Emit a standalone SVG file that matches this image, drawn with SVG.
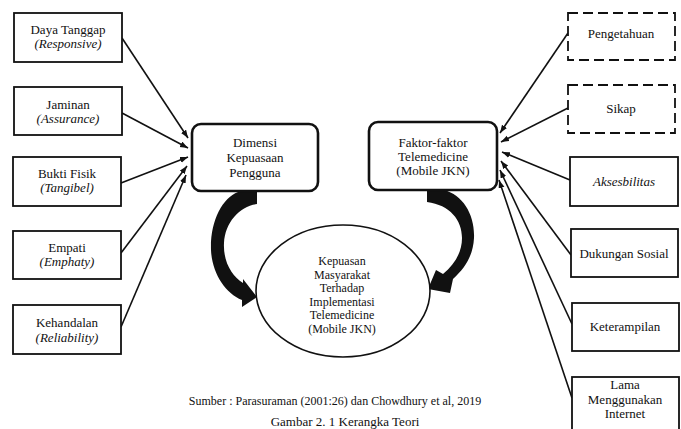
<svg xmlns="http://www.w3.org/2000/svg" width="681" height="429" viewBox="0 0 681 429">
<style>
text{font-family:"Liberation Serif","Times New Roman",serif;font-size:13px;fill:#111;text-anchor:middle}
.it{font-style:italic}
.box{fill:#fff;stroke:#111;stroke-width:1.8}
.dash{fill:#fff;stroke:#111;stroke-width:1.8;stroke-dasharray:10 5}
.rbox{fill:#fff;stroke:#111;stroke-width:2.6}
.ln{stroke:#111;stroke-width:1.6;fill:none;marker-end:url(#ah)}
.cap{font-size:12px}
.el{font-size:12px}
</style>
<defs>
<marker id="ah" markerUnits="userSpaceOnUse" markerWidth="9" markerHeight="7" refX="8" refY="3" orient="auto">
<path d="M0,0 L8,3 L0,6 z" fill="#111"/>
</marker>
</defs>
<rect width="681" height="429" fill="#fff"/>

<g id="connectors">
<line class="ln" x1="122" y1="38" x2="188" y2="138"/>
<line class="ln" x1="122" y1="113" x2="188" y2="148"/>
<line class="ln" x1="121" y1="183" x2="188" y2="157"/>
<line class="ln" x1="121" y1="253" x2="187" y2="166"/>
<line class="ln" x1="121" y1="327" x2="186" y2="175"/>
<line class="ln" x1="568" y1="33" x2="500" y2="133"/>
<line class="ln" x1="568" y1="108" x2="501" y2="142"/>
<line class="ln" x1="570" y1="180" x2="502" y2="152"/>
<line class="ln" x1="571" y1="255" x2="501" y2="161"/>
<line class="ln" x1="572" y1="324" x2="500" y2="170"/>
<line class="ln" x1="572" y1="398" x2="499" y2="180"/>
<path id="curve-left" fill="#111" d="M238,192 L257,192 L257,204 C240,206 225,222 224,243 C223,262 232,276 243,283 L243,279 L257,297 L242,307 L242,300 C225,293 212,273 211,250 C210,222 222,198 238,192 Z"/>
<path id="curve-right" fill="#111" d="M427,190 L444,190 C463,195 475,215 474,238 C473,256 465,268 453,279 L450,293 L428,289 L436,270 L443,274 C455,264 462,252 462,238 C462,220 450,205 427,202 Z"/>
</g>

<g id="n-daya"><rect class="box" x="14" y="13" width="108" height="49"/><text x="68" y="34">Daya Tanggap</text><text class="it" x="68" y="48">(Responsive)</text></g>
<g id="n-jaminan"><rect class="box" x="14" y="87" width="108" height="48"/><text x="68" y="109">Jaminan</text><text class="it" x="68" y="123">(Assurance)</text></g>
<g id="n-bukti"><rect class="box" x="13" y="157" width="108" height="49"/><text x="67" y="178">Bukti Fisik</text><text class="it" x="67" y="192">(Tangibel)</text></g>
<g id="n-empati"><rect class="box" x="13" y="231" width="108" height="48"/><text x="67" y="252">Empati</text><text class="it" x="67" y="266">(Emphaty)</text></g>
<g id="n-kehandalan"><rect class="box" x="13" y="305" width="108" height="49"/><text x="67" y="327">Kehandalan</text><text class="it" x="67" y="342">(Reliability)</text></g>

<g id="n-dimensi"><rect class="rbox" x="192" y="124" width="126" height="67" rx="9"/><text x="255" y="147">Dimensi</text><text x="255" y="162">Kepuasaan</text><text x="255" y="177">Pengguna</text></g>
<g id="n-faktor"><rect class="rbox" x="369" y="122" width="128" height="68" rx="9"/><text x="433" y="147">Faktor-faktor</text><text x="433" y="161">Telemedicine</text><text x="433" y="175">(Mobile JKN)</text></g>

<g id="n-kepuasan"><ellipse cx="343" cy="291" rx="87" ry="66" fill="#fff" stroke="#111" stroke-width="1.6"/>
<text class="el" x="342" y="265">Kepuasan</text><text class="el" x="342" y="278.5">Masyarakat</text><text class="el" x="342" y="292">Terhadap</text><text class="el" x="342" y="305.5">Implementasi</text><text class="el" x="342" y="319">Telemedicine</text><text class="el" x="342" y="332.5">(Mobile JKN)</text></g>

<g id="n-pengetahuan"><rect class="dash" x="568" y="13" width="107" height="47"/><text x="621" y="38">Pengetahuan</text></g>
<g id="n-sikap"><rect class="dash" x="568" y="85" width="107" height="48"/><text x="621" y="113">Sikap</text></g>
<g id="n-aksesbilitas"><rect class="box" x="570" y="157" width="108" height="49"/><text class="it" x="624" y="186">Aksesbilitas</text></g>
<g id="n-dukungan"><rect class="box" x="571" y="229" width="107" height="48"/><text x="624" y="258">Dukungan Sosial</text></g>
<g id="n-keterampilan"><rect class="box" x="572" y="303" width="107" height="48"/><text x="625" y="331">Keterampilan</text></g>
<g id="n-lama"><rect class="box" x="572" y="377" width="107" height="60"/><text x="625" y="389">Lama</text><text x="625" y="404">Menggunakan</text><text x="625" y="418">Internet</text></g>

<text class="cap" x="335" y="405">Sumber : Parasuraman (2001:26) dan Chowdhury et al, 2019</text>
<text x="345" y="426">Gambar 2. 1 Kerangka Teori</text>
</svg>
